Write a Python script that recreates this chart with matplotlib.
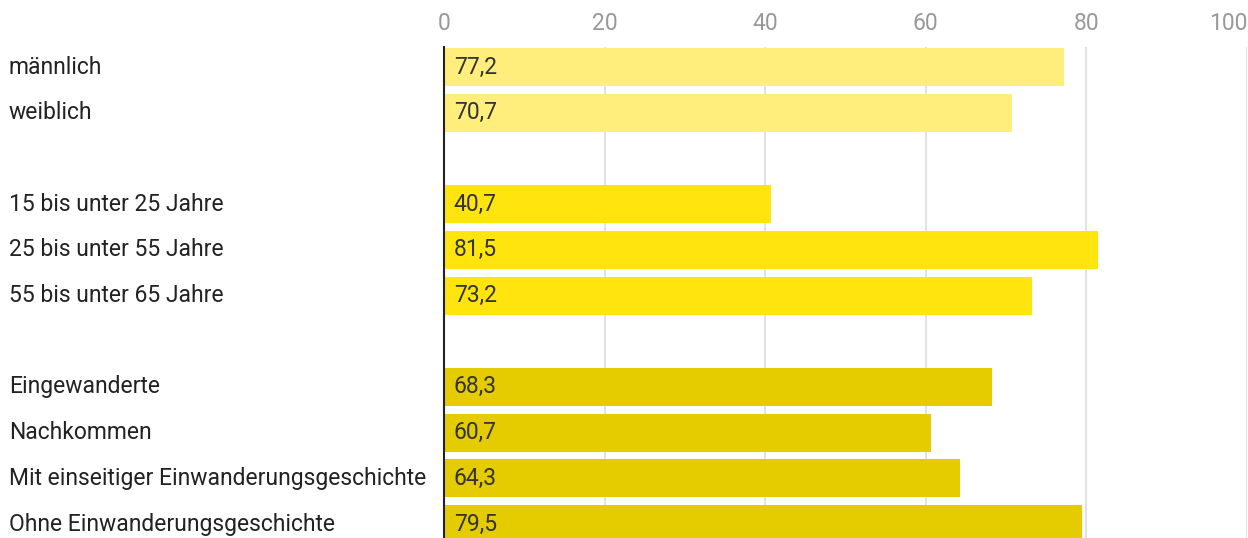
import numpy as np
import matplotlib.pyplot as plt

plt.rcParams['font.family'] = ['Roboto', 'DejaVu Sans']

# groups of categories, shown with a blank row in between
groups = [
    ["männlich", "weiblich"],
    ["15 bis unter 25 Jahre", "25 bis unter 55 Jahre", "55 bis unter 65 Jahre"],
    ["Eingewanderte", "Nachkommen", "Mit einseitiger Einwanderungsgeschichte",
     "Ohne Einwanderungsgeschichte"],
]
values = [
    [77.2, 70.7],
    [40.7, 81.5, 73.2],
    [68.3, 60.7, 64.3, 79.5],
]
group_colors = ["#FFEE7B", "#FFE50D", "#E4CC00"]
xticks = [0, 20, 40, 60, 80, 100]

fig = plt.figure(figsize=(12.48, 5.38), dpi=100)
ax = fig.add_axes([444 / 1248, 0, 803 / 1248, 1 - 47 / 538])

row = 0
for cats, vals, col in zip(groups, values, group_colors):
    for cat, v in zip(cats, vals):
        ax.barh(row, v, height=0.83, color=col, zorder=2)
        ax.text(1.2, row, f"{v:.1f}".replace(".", ","), va="center", ha="left",
                fontsize=16.5, color="#333333", zorder=3)
        ax.annotate(cat, xy=(0, row), xycoords=("figure fraction", "data"),
                    xytext=(9, 0), textcoords="offset pixels",
                    va="center", ha="left", fontsize=16.5, color="#222222",
                    annotation_clip=False)
        row += 1
    row += 1

ax.set_xlim(0, 100)
ax.set_ylim(10.306, -0.44)
ax.set_xticks(xticks)
ax.set_yticks([])
ax.xaxis.tick_top()
ax.tick_params(axis="x", length=0, pad=9, labelsize=16.5, labelcolor="#999999")
ax.get_xticklabels()[-1].set_horizontalalignment("right")
ax.grid(axis="x", color="#dddddd", linewidth=1.2, zorder=0)
for s in ["top", "right", "bottom"]:
    ax.spines[s].set_visible(False)
ax.spines["left"].set_color("#222222")
ax.spines["left"].set_linewidth(1.5)
ax.spines["left"].set_zorder(4)

fig.savefig("out.png", dpi=100)
